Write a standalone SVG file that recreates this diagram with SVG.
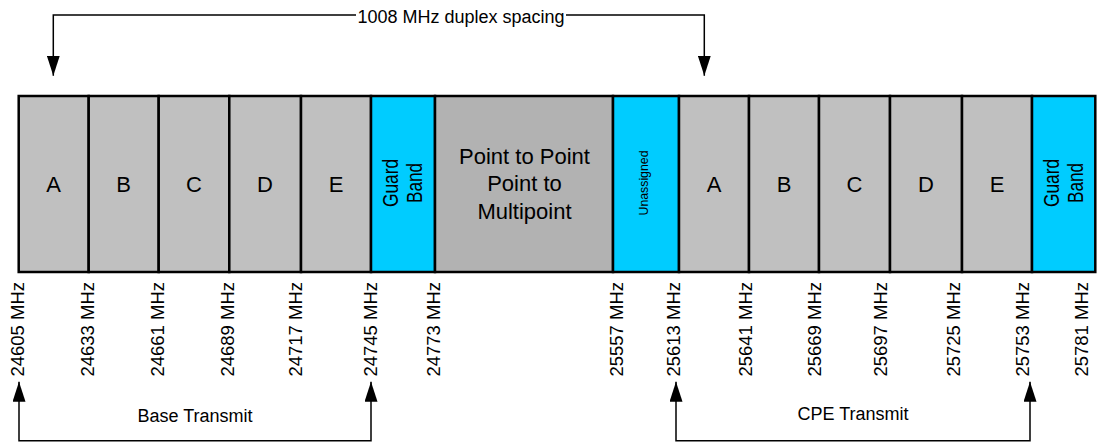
<svg xmlns="http://www.w3.org/2000/svg" width="1113" height="444" viewBox="0 0 1113 444">
<style>
  text { font-family: "Liberation Sans", Arial, sans-serif; fill: #000; }
  .band { stroke: #000; stroke-width: 2.5; }
  .grey { fill: #C0C0C0; }
  .dark { fill: #B2B2B2; }
  .cyan { fill: #00CCFF; }
  .lbl { font-size: 22px; text-anchor: middle; }
  .freq { font-size: 18.5px; text-anchor: end; }
  .cap { font-size: 18px; text-anchor: middle; }
  .conn { fill: none; stroke: #000; stroke-width: 1.5; }
</style>
<defs>
  <marker id="arr" viewBox="0 0 20 13" refX="20" refY="6.5" markerWidth="20" markerHeight="13" markerUnits="userSpaceOnUse" orient="auto-start-reverse">
    <path d="M0,0 L20,6.5 L0,13 z" fill="#000"/>
  </marker>
</defs>
<rect width="1113" height="444" fill="#fff"/>

<g id="band-A1"><rect class="band grey" x="18.7" y="96" width="70" height="176"/><text class="lbl" x="53.7" y="191.5">A</text></g>
<g id="band-B1"><rect class="band grey" x="88.7" y="96" width="70" height="176"/><text class="lbl" x="123.7" y="191.5">B</text></g>
<g id="band-C1"><rect class="band grey" x="158.7" y="96" width="70.6" height="176"/><text class="lbl" x="194" y="191.5">C</text></g>
<g id="band-D1"><rect class="band grey" x="229.3" y="96" width="71.7" height="176"/><text class="lbl" x="265" y="191.5">D</text></g>
<g id="band-E1"><rect class="band grey" x="301" y="96" width="70" height="176"/><text class="lbl" x="336" y="191.5">E</text></g>
<g id="guard1"><rect class="band cyan" x="371" y="96" width="64" height="176"/>
  <text font-size="22" text-anchor="middle" textLength="48" lengthAdjust="spacingAndGlyphs" transform="translate(398,183) rotate(-90)">Guard</text>
  <text font-size="22" text-anchor="middle" textLength="40" lengthAdjust="spacingAndGlyphs" transform="translate(422,183) rotate(-90)">Band</text>
</g>
<g id="p2p"><rect class="band dark" x="435" y="96" width="178" height="176"/>
  <text class="lbl" x="524.5" y="163.5">Point to Point</text>
  <text class="lbl" x="524.5" y="191">Point to</text>
  <text class="lbl" x="524.5" y="218.5">Multipoint</text>
</g>
<g id="unassigned"><rect class="band cyan" x="613" y="96" width="66" height="176"/>
  <text font-size="13" text-anchor="middle" textLength="65" lengthAdjust="spacingAndGlyphs" transform="translate(647.5,183) rotate(-90)">Unassigned</text>
</g>
<g id="band-A2"><rect class="band grey" x="679" y="96" width="70" height="176"/><text class="lbl" x="714" y="191.5">A</text></g>
<g id="band-B2"><rect class="band grey" x="749" y="96" width="70" height="176"/><text class="lbl" x="784" y="191.5">B</text></g>
<g id="band-C2"><rect class="band grey" x="819" y="96" width="71" height="176"/><text class="lbl" x="854.5" y="191.5">C</text></g>
<g id="band-D2"><rect class="band grey" x="890" y="96" width="72" height="176"/><text class="lbl" x="926" y="191.5">D</text></g>
<g id="band-E2"><rect class="band grey" x="962" y="96" width="70" height="176"/><text class="lbl" x="997" y="191.5">E</text></g>
<g id="guard2"><rect class="band cyan" x="1032" y="96" width="63.3" height="176"/>
  <text font-size="22" text-anchor="middle" textLength="48" lengthAdjust="spacingAndGlyphs" transform="translate(1058.5,183) rotate(-90)">Guard</text>
  <text font-size="22" text-anchor="middle" textLength="40" lengthAdjust="spacingAndGlyphs" transform="translate(1082.5,183) rotate(-90)">Band</text>
</g>

<g id="freq-labels">
  <text class="freq" transform="translate(23.5,282) rotate(-90)">24605 MHz</text>
  <text class="freq" transform="translate(94,282) rotate(-90)">24633 MHz</text>
  <text class="freq" transform="translate(164,282) rotate(-90)">24661 MHz</text>
  <text class="freq" transform="translate(234,282) rotate(-90)">24689 MHz</text>
  <text class="freq" transform="translate(302,282) rotate(-90)">24717 MHz</text>
  <text class="freq" transform="translate(377,282) rotate(-90)">24745 MHz</text>
  <text class="freq" transform="translate(440,282) rotate(-90)">24773 MHz</text>
  <text class="freq" transform="translate(623,282) rotate(-90)">25557 MHz</text>
  <text class="freq" transform="translate(680,282) rotate(-90)">25613 MHz</text>
  <text class="freq" transform="translate(752,282) rotate(-90)">25641 MHz</text>
  <text class="freq" transform="translate(821,282) rotate(-90)">25669 MHz</text>
  <text class="freq" transform="translate(887,282) rotate(-90)">25697 MHz</text>
  <text class="freq" transform="translate(960,282) rotate(-90)">25725 MHz</text>
  <text class="freq" transform="translate(1029,282) rotate(-90)">25753 MHz</text>
  <text class="freq" transform="translate(1088,282) rotate(-90)">25781 MHz</text>
</g>

<g id="connectors">
  <path class="conn" d="M356,15 H53.3 V75.7" marker-end="url(#arr)"/>
  <path class="conn" d="M566,15 H704.3 V75.7" marker-end="url(#arr)"/>
  <path class="conn" d="M19,381.7 V440.7 H371 V381.7" marker-start="url(#arr)" marker-end="url(#arr)"/>
  <path class="conn" d="M676,381.7 V440.7 H1030 V381.7" marker-start="url(#arr)" marker-end="url(#arr)"/>
</g>
<g id="captions">
  <text class="cap" x="461" y="22.5">1008 MHz duplex spacing</text>
  <text class="cap" x="195" y="421.5">Base Transmit</text>
  <text class="cap" x="853" y="420">CPE Transmit</text>
</g>
</svg>
